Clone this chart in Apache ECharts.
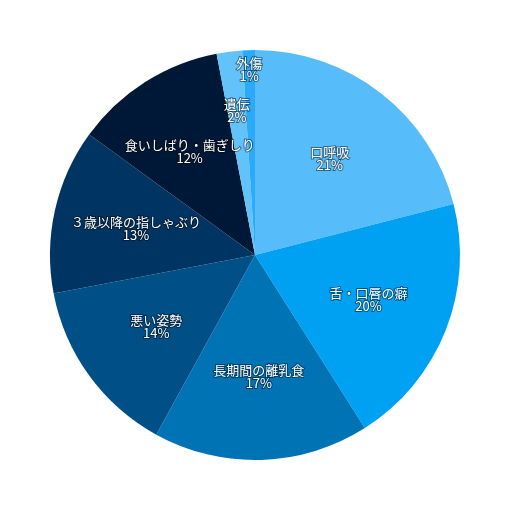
<!DOCTYPE html>
<html>
<head>
<meta charset="utf-8">
<script src="https://cdn.jsdelivr.net/npm/echarts@6/dist/echarts.min.js"></script>
<style>
html,body{margin:0;padding:0;background:#fff;}
#main{width:510px;height:510px;}
</style>
</head>
<body>
<div id="main"></div>
<script>
const categories = ['口呼吸', '舌・口唇の癖', '長期間の離乳食', '悪い姿勢', '３歳以降の指しゃぶり', '食いしばり・歯ぎしり', '遺伝', '外傷'];
const values = [21, 20, 17, 14, 13, 12, 2, 1];
const colors = ['#56bdfa', '#00a0f2', '#0073b5', '#004f87', '#003563', '#001838', '#62c2fa', '#2aaafa'];

const chart = echarts.init(document.getElementById('main'), null, {renderer: 'canvas'});
const RADIUS = 205;
const total = values.reduce((a, b) => a + b, 0);

function labelPos(i) {
  let cum = 0;
  for (let j = 0; j < i; j++) cum += values[j];
  const mid = (cum + values[i] / 2) / total * Math.PI * 2;
  const pct = values[i] / total * 100;
  const r = pct >= 5 ? RADIUS * 0.595 : RADIUS * (1.1 - 0.195 * pct);
  const cx = chart.getWidth() / 2, cy = chart.getHeight() / 2;
  return {x: cx + r * Math.sin(mid), y: cy - r * Math.cos(mid)};
}

chart.setOption({
  animation: false,
  backgroundColor: '#ffffff',
  series: [{
    type: 'pie',
    center: ['50%', '50%'],
    radius: [0, RADIUS],
    startAngle: 90,
    clockwise: true,
    avoidLabelOverlap: false,
    data: categories.map((c, i) => ({name: c, value: values[i], itemStyle: {color: colors[i]}})),
    itemStyle: {borderWidth: 0},
    label: {
      show: true,
      position: 'inside',
      formatter: p => p.name + '\n' + p.value + '%',
      color: '#ffffff',
      fontSize: 13,
      lineHeight: 13,
      fontFamily: '"Noto Sans CJK JP", "Noto Sans", sans-serif',
      textBorderColor: 'rgba(0,0,0,0.45)',
      textBorderWidth: 2,
      align: 'center'
    },
    labelLine: {show: false},
    labelLayout: function (p) {
      const pos = labelPos(p.dataIndex);
      return {x: pos.x, y: pos.y, align: 'center', verticalAlign: 'middle'};
    },
    emphasis: {disabled: true}
  }]
});
</script>
</body>
</html>
